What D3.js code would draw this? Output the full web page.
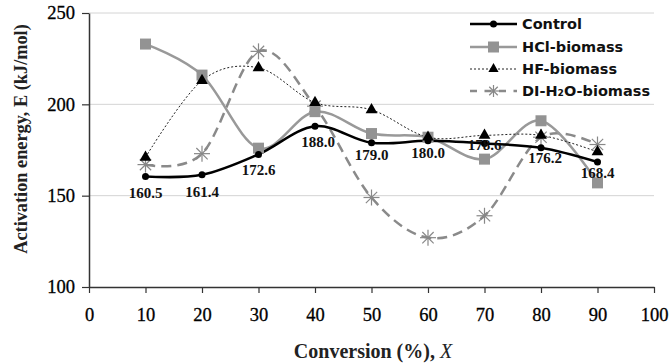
<!DOCTYPE html>
<html><head><meta charset="utf-8">
<script src="https://cdn.jsdelivr.net/npm/d3@7"></script>
<style>body{margin:0;background:#fff}</style>
</head><body>
<svg id="c" width="670" height="363"></svg>
<script>
const conversion = [10,20,30,40,50,60,70,80,90];
const control = [160.5,161.4,172.6,188.0,179.0,180.0,178.6,176.2,168.4];
const hcl = [233,216,176,196,184,182,170,191,157];
const hf = [171,213,220,201,197,182,183,183,174];
const diH2O = [167,173,229,199,149,127,139,182,178];
const controlLabels = ["160.5","161.4","172.6","188.0","179.0","180.0","178.6","176.2","168.4"];
const xTicks = [0,10,20,30,40,50,60,70,80,90,100];
const yTicks = [100,150,200,250];
const seriesNames = ["Control","HCl-biomass","HF-biomass","DI-H\u2082O-biomass"];

const svg = d3.select("#c");
const x = d3.scaleLinear().domain([0,100]).range([89,654]);
const y = d3.scaleLinear().domain([100,250]).range([287,13]);

// gridlines
svg.append("g").selectAll("line").data(yTicks.filter(d=>d>100)).join("line")
  .attr("x1",x(0)).attr("x2",x(100)).attr("y1",d=>y(d)).attr("y2",d=>y(d))
  .attr("stroke","#d4d4d4").attr("stroke-width",1);

const serif = "'Liberation Serif','Times New Roman',serif";
// axes
const xAxis = svg.append("g").attr("transform",`translate(0,${y(100)})`)
  .call(d3.axisBottom(x).tickValues(xTicks).tickSize(6).tickPadding(15).tickSizeOuter(0));
const yAxis = svg.append("g").attr("transform",`translate(${x(0)},0)`)
  .call(d3.axisLeft(y).tickValues(yTicks).tickSize(7).tickPadding(7).tickSizeOuter(0));
[xAxis,yAxis].forEach(a=>{
  a.select(".domain").attr("stroke","#333").attr("stroke-width",1.5);
  a.selectAll(".tick line").attr("stroke","#333").attr("stroke-width",1.2);
  a.selectAll("text").attr("font-family",serif).attr("font-size",18.5).attr("fill","#000")
    .attr("stroke","#000").attr("stroke-width",0.3);
});

const curve = d3.curveCardinal.tension(0);
const line = vals => d3.line().x((d,i)=>x(conversion[i])).y(d=>y(d)).curve(curve)(vals);

// DI-H2O
svg.append("path").attr("d",line(diH2O)).attr("fill","none").attr("stroke","#8a8a8a")
  .attr("stroke-width",2.5).attr("stroke-dasharray","10,6");
// HCl
svg.append("path").attr("d",line(hcl)).attr("fill","none").attr("stroke","#999")
  .attr("stroke-width",2.5);
// HF
svg.append("path").attr("d",line(hf)).attr("fill","none").attr("stroke","#222")
  .attr("stroke-width",1).attr("stroke-dasharray","2,2");
// Control
svg.append("path").attr("d",line(control)).attr("fill","none").attr("stroke","#000")
  .attr("stroke-width",2.5);

function star(g, cx, cy, r, col){
  for (let k=0;k<4;k++){
    const a = Math.PI/4*k;
    g.append("line").attr("x1",cx-r*Math.cos(a)).attr("y1",cy-r*Math.sin(a))
      .attr("x2",cx+r*Math.cos(a)).attr("y2",cy+r*Math.sin(a))
      .attr("stroke",col).attr("stroke-width",1.2);
  }
}
const gm = svg.append("g");
diH2O.forEach((d,i)=>{ const g=gm.append("g"); star(g,x(conversion[i]),y(d),8,"#888"); });
gm.selectAll("rect.h").data(hcl).join("rect").attr("class","h")
  .attr("x",(d,i)=>x(conversion[i])-5.5).attr("y",d=>y(d)-5.5).attr("width",11).attr("height",11)
  .attr("fill","#939393");
const tri = d3.symbol().type(d3.symbolTriangle).size(60);
gm.selectAll("path.t").data(hf).join("path").attr("class","t")
  .attr("transform",(d,i)=>`translate(${x(conversion[i])},${y(d)})`).attr("d",tri).attr("fill","#000");
gm.selectAll("circle.c").data(control).join("circle").attr("class","c")
  .attr("cx",(d,i)=>x(conversion[i])).attr("cy",d=>y(d)).attr("r",3.5).attr("fill","#000");

// data labels (baseline offsets from point)
const labOff = [[0,22],[0,22],[0,21],[3,21],[0,17],[0,17],[0,7],[4,15],[0,16]];
svg.append("g").selectAll("text").data(control).join("text")
  .attr("x",(d,i)=>x(conversion[i])+labOff[i][0]).attr("y",(d,i)=>y(d)+labOff[i][1])
  .attr("text-anchor","middle").attr("font-family",serif).attr("font-weight","bold")
  .attr("font-size",15).attr("fill","#111").text((d,i)=>controlLabels[i]);

// axis titles
svg.append("text").attr("x",373).attr("y",358).attr("text-anchor","middle")
  .attr("font-family",serif).attr("font-weight","bold").attr("font-size",20).attr("fill","#222")
  .html('Conversion (%), <tspan font-style="italic" font-weight="normal">X</tspan>');
svg.append("text").attr("transform","translate(27,139) rotate(-90)").attr("text-anchor","middle")
  .attr("font-family",serif).attr("font-weight","bold").attr("font-size",18.3).attr("fill","#222")
  .text("Activation energy, E (kJ/mol)");

// legend
const lg = svg.append("g");
const ly = [24,47,69,91];
const sans = "'DejaVu Sans','Noto Sans',sans-serif";
const lx1=470, lx2=517, lxm=493.5;
lg.append("line").attr("x1",lx1).attr("x2",lx2).attr("y1",ly[0]).attr("y2",ly[0]).attr("stroke","#000").attr("stroke-width",2.5);
lg.append("circle").attr("cx",lxm).attr("cy",ly[0]).attr("r",3.5).attr("fill","#000");
lg.append("line").attr("x1",lx1).attr("x2",lx2).attr("y1",ly[1]).attr("y2",ly[1]).attr("stroke","#999").attr("stroke-width",2.5);
lg.append("rect").attr("x",lxm-5.5).attr("y",ly[1]-5.5).attr("width",11).attr("height",11).attr("fill","#939393");
lg.append("line").attr("x1",lx1).attr("x2",lx2).attr("y1",ly[2]).attr("y2",ly[2]).attr("stroke","#222").attr("stroke-width",1).attr("stroke-dasharray","2,2");
lg.append("path").attr("transform",`translate(${lxm},${ly[2]})`).attr("d",d3.symbol().type(d3.symbolTriangle).size(45)).attr("fill","#000");
lg.append("line").attr("x1",lx1).attr("x2",lx2).attr("y1",ly[3]).attr("y2",ly[3]).attr("stroke","#8a8a8a").attr("stroke-width",2.5).attr("stroke-dasharray","7,7.5");
star(lg.append("g"),lxm,ly[3],6,"#888");
lg.selectAll("text").data(seriesNames).join("text").attr("x",522).attr("y",(d,i)=>ly[i]+5)
  .attr("font-family",sans).attr("font-weight","bold").attr("font-size",14.5).attr("fill","#111").text(d=>d);
</script>
</body></html>
